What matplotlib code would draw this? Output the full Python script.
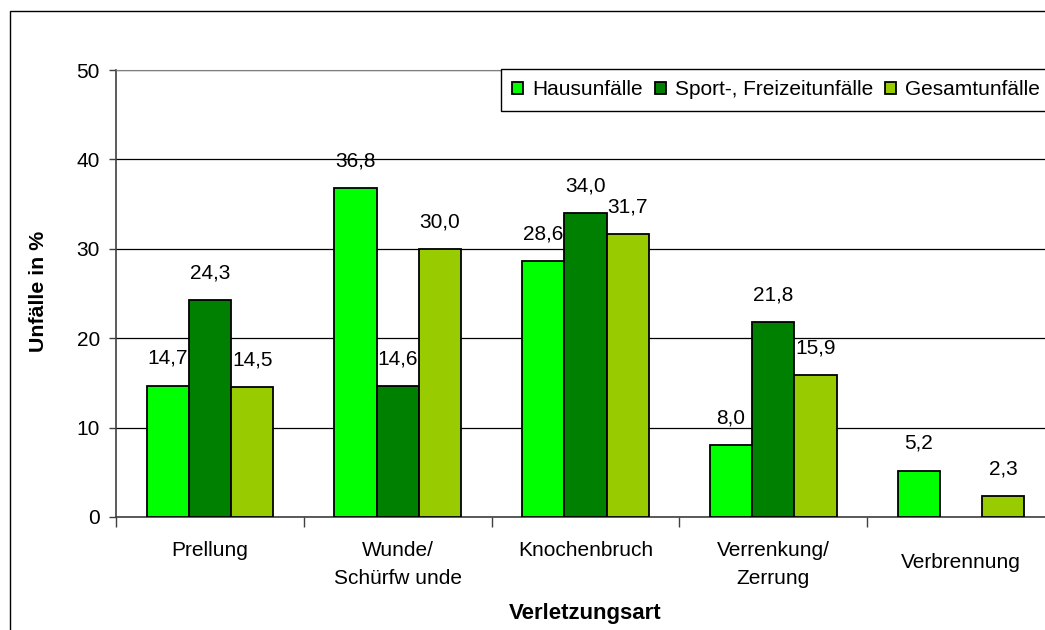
import numpy as np
import matplotlib
matplotlib.use("Agg")
import matplotlib.pyplot as plt
from matplotlib.patches import Rectangle

plt.rcParams['font.family'] = ['Liberation Sans', 'DejaVu Sans']

# daten
kategorien = ["Prellung", "Wunde/\nSchürfw unde", "Knochenbruch", "Verrenkung/\nZerrung", "Verbrennung"]
hausunfaelle = [14.7, 36.8, 28.6, 8.0, 5.2]
sportunfaelle = [24.3, 14.6, 34.0, 21.8, None]
gesamtunfaelle = [14.5, 30.0, 31.7, 15.9, 2.3]
serien = ["Hausunfälle", "Sport-, Freizeitunfälle", "Gesamtunfälle"]
farben = ["#00FF00", "#008000", "#99CC00"]

W, H = 1045, 630
fig = plt.figure(figsize=(W / 100, H / 100), dpi=100)
# plotbereich geht rechts ueber das bild hinaus (wie im original abgeschnitten)
ax = fig.add_axes([116 / W, (H - 517) / H, (1055 - 116) / W, 447 / H])

# aeusserer rahmen
fig.patches.append(Rectangle((10 / W, -0.2), 1.2, 1.2 - 11 / H, transform=fig.transFigure,
                             fill=False, edgecolor="black", linewidth=1.0, zorder=0))

x = np.arange(len(kategorien))
b = 0.225

for i, (werte, name, farbe) in enumerate(zip([hausunfaelle, sportunfaelle, gesamtunfaelle], serien, farben)):
    xs = [xi + (i - 1) * b for xi, v in zip(x, werte) if v is not None]
    vs = [v for v in werte if v is not None]
    ax.bar(xs, vs, width=b, color=farbe, edgecolor="black", linewidth=1.3, label=name, zorder=3)
    for xi, v in zip(xs, vs):
        ax.annotate(f"{v:.1f}".replace(".", ","), (xi, v), xytext=(0, 19.5), textcoords="offset points",
                    ha="center", va="center", fontsize=15)

ax.set_xlim(-0.5, 4.5)
ax.set_ylim(0, 50)
ax.set_yticks([0, 10, 20, 30, 40, 50])
ax.tick_params(axis="y", length=5, width=1, pad=6.5, labelsize=15, color="#404040")
ax.yaxis.grid(True, color="black", linewidth=0.9, zorder=0)
ax.set_axisbelow(True)

# striche zwischen den kategorien, beschriftung in der mitte
ax.set_xticks(np.arange(-0.5, 5, 1.0))
ax.set_xticklabels([])
ax.tick_params(axis="x", which="major", length=7.2, width=1, color="#404040")
ax.set_xticks(x, minor=True)
ax.set_xticklabels(kategorien, minor=True, fontsize=15, linespacing=1.65)
ax.tick_params(axis="x", which="minor", length=0, pad=17)
ax.xaxis.get_minor_ticks()[4].set_pad(26)

for s in ["top", "right"]:
    ax.spines[s].set_color("#808080")
ax.spines["left"].set_color("#404040")
ax.spines["bottom"].set_color("#404040")
ax.spines["left"].set_linewidth(1.2)
ax.spines["bottom"].set_linewidth(1.2)

ax.set_ylabel("Unfälle in %", fontsize=15.4, fontweight="bold")
ax.yaxis.set_label_coords(-0.0725, 0.505)
ax.set_xlabel("Verletzungsart", fontsize=16, fontweight="bold")
ax.xaxis.set_label_coords(0.50, -0.192)

leg = fig.legend(loc="upper left", bbox_to_anchor=(501 / W, 1 - 69 / H), ncol=3, fontsize=15,
                 fancybox=False, edgecolor="black", framealpha=1, borderaxespad=0,
                 handlelength=0.52, handleheight=0.52, handletextpad=0.45, columnspacing=0.55,
                 borderpad=0.55)
leg.get_frame().set_linewidth(1.0)

fig.savefig("out.png", dpi=100)
